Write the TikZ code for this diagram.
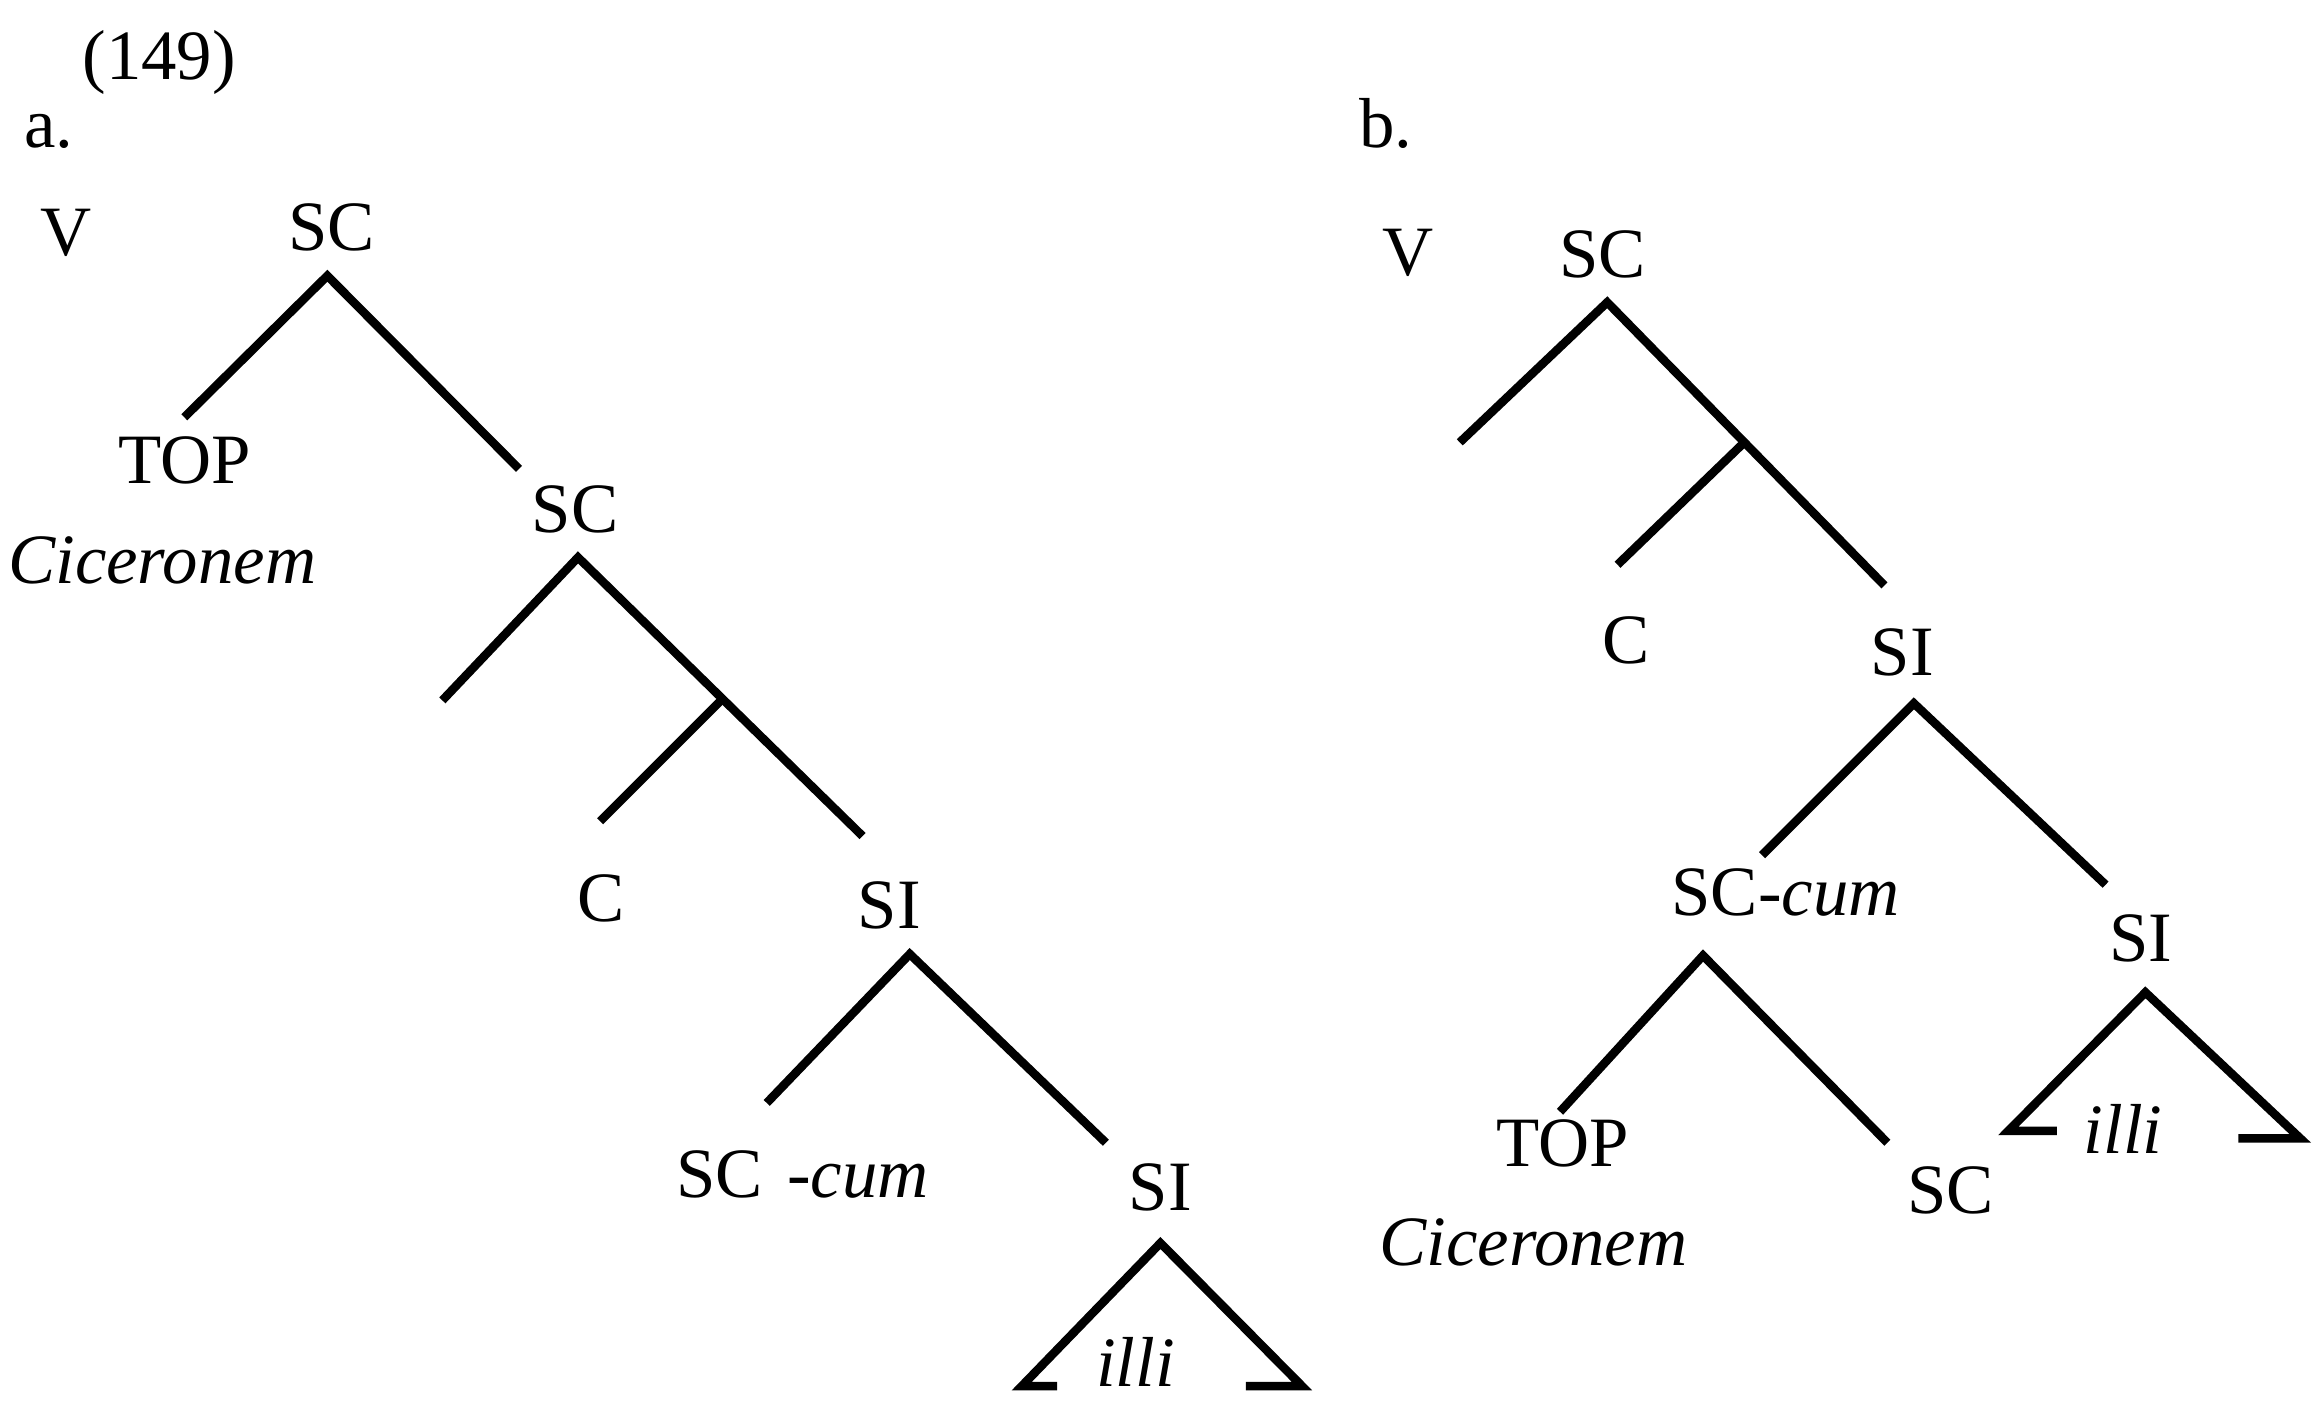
\documentclass[tikz,border=0pt]{standalone}
\usepackage{fontspec}
\setmainfont{Liberation Serif}
\begin{document}
\begin{tikzpicture}[x=0.5pt,y=-0.5pt,
  lab/.style={font=\fontsize{24}{28}\selectfont, inner sep=0pt, anchor=base},
  br/.style={line width=2.9pt, line cap=butt, line join=miter}]
\useasboundingbox (0,0) rectangle (1568,950);
\clip (0,0) rectangle (1568,950);
% ---------- labels, tree a ----------
\node[lab] (n149) at (108,54) {(149)};
\node[lab] (alab) at (33,100) {a.};
\node[lab] (aV) at (45,173) {V};
\node[lab] (aSCa) at (225,170) {SC};
\node[lab] (aTOP) at (125,328) {TOP};
\node[lab] (aCic) at (110,396) {\textit{Ciceronem}};
\node[lab] (aSCb) at (390,361) {SC};
\node[lab] (aC) at (408,625) {C};
\node[lab] (aSIa) at (603,630) {SI};
\node[lab] (aSCc) at (488,812) {SC};
\node[lab] (aCum) at (582,812) {\textit{-cum}};
\node[lab] (aSIb) at (787,821) {SI};
\node[lab] (aIlli) at (770,940) {\textit{illi}};
% ---------- labels, tree b ----------
\node[lab] (blab) at (940,100) {b.};
\node[lab] (bV) at (955,187) {V};
\node[lab] (bSCa) at (1087,188) {SC};
\node[lab] (bC) at (1103,450) {C};
\node[lab] (bSIa) at (1290,458) {SI};
\node[lab] (bSCcum) at (1211,621) {SC-\textit{cum}};
\node[lab] (bSIb) at (1452,652) {SI};
\node[lab] (bIlli) at (1440,782) {\textit{illi}};
\node[lab] (bTOP) at (1060,791) {TOP};
\node[lab] (bCic) at (1040,858) {\textit{Ciceronem}};
\node[lab] (bSCb) at (1323,823) {SC};
% ---------- branch points, tree a ----------
\coordinate (a1) at (222,187);
\coordinate (a1l) at (125,283);
\coordinate (a1r) at (352,318);
\coordinate (a2) at (392,378);
\coordinate (a2l) at (300,475);
\coordinate (a2r) at (585,567);
\coordinate (a2m) at (490,474);
\coordinate (a2ml) at (407,557);
\coordinate (a3) at (617,647);
\coordinate (a3l) at (520,748);
\coordinate (a3r) at (750,775);
\coordinate (a4) at (787,843);
\coordinate (a4l) at (693,940);
\coordinate (a4lh) at (717,940);
\coordinate (a4r) at (883,940);
\coordinate (a4rh) at (845,940);
% ---------- branch points, tree b ----------
\coordinate (b1) at (1090,205);
\coordinate (b1l) at (990,300);
\coordinate (b1r) at (1278,397);
\coordinate (b1m) at (1184,299);
\coordinate (b1ml) at (1097,383);
\coordinate (b2) at (1298,477);
\coordinate (b2l) at (1195,580);
\coordinate (b2r) at (1428,600);
\coordinate (b3) at (1155,648);
\coordinate (b3l) at (1058,754);
\coordinate (b3r) at (1280,775);
\coordinate (b4) at (1455,673);
\coordinate (b4l) at (1362,767);
\coordinate (b4lh) at (1395,767);
\coordinate (b4r) at (1560,772);
\coordinate (b4rh) at (1518,772);
% ---------- branches ----------
\draw[br] (a1l) -- (a1) -- (a1r);
\draw[br] (a2l) -- (a2) -- (a2r);
\draw[br] (a2m) -- (a2ml);
\draw[br] (a3l) -- (a3) -- (a3r);
\draw[br] (a4lh) -- (a4l) -- (a4) -- (a4r) -- (a4rh);
\draw[br] (b1l) -- (b1) -- (b1r);
\draw[br] (b1m) -- (b1ml);
\draw[br] (b2l) -- (b2) -- (b2r);
\draw[br] (b3l) -- (b3) -- (b3r);
\draw[br] (b4lh) -- (b4l) -- (b4) -- (b4r) -- (b4rh);
\end{tikzpicture}
\end{document}
